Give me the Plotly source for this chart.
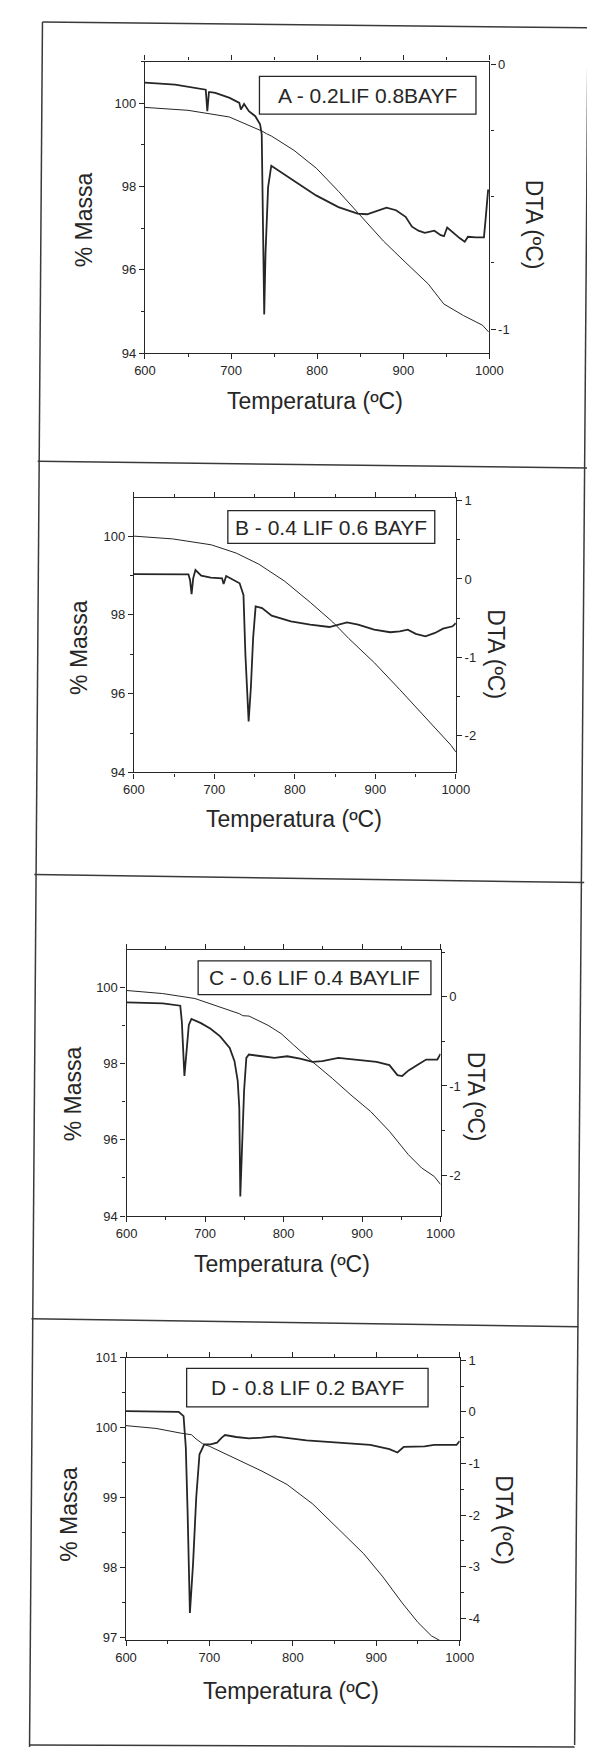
import plotly.graph_objects as go

# ---------------- data ----------------
# Panel A - 0.2LIF 0.8BAYF
A_label = "A - 0.2LIF 0.8BAYF"
A_tg_T = [600, 650, 698, 720, 736, 741, 747, 773, 799, 825, 851, 877, 903, 929, 947, 970, 992, 999]
A_tg = [99.90, 99.83, 99.67, 99.48, 99.33, 99.27, 99.21, 98.87, 98.44, 97.88, 97.29, 96.69, 96.17, 95.66, 95.18, 94.90, 94.67, 94.51]
A_dta_T = [600, 635, 670.6, 672.4, 674.3, 676.1, 681.7, 698.4, 709.6, 711.4, 715.1, 720.7, 728.1, 733.7, 735.6,
           736.7, 738.5, 740, 743, 746.7, 772.7, 798.7, 824.7, 847, 858, 869.3, 880.5, 891.6, 902.7, 910.1,
           917.6, 925, 936.1, 943.5, 947.3, 951, 958.4, 965.8, 971.4, 975.1, 984.4, 993.7, 995.5, 998.5, 1000]
A_dta = [-0.069, -0.077, -0.096, -0.177, -0.105, -0.105, -0.108, -0.127, -0.146, -0.171, -0.150, -0.177, -0.196, -0.227, -0.264,
         -0.464, -0.944, -0.713, -0.464, -0.383, -0.439, -0.495, -0.539, -0.564, -0.566, -0.554, -0.541, -0.551, -0.576, -0.613,
         -0.628, -0.636, -0.628, -0.645, -0.649, -0.616, -0.638, -0.657, -0.670, -0.651, -0.653, -0.653, -0.589, -0.476, -0.476]

# Panel B - 0.4 LIF 0.6 BAYF
B_label = "B - 0.4 LIF 0.6 BAYF"
B_tg_T = [600, 648, 696, 727, 755, 787, 819, 847, 867, 899, 930, 966, 986, 994, 1000]
B_tg = [100.00, 99.93, 99.78, 99.57, 99.29, 98.86, 98.32, 97.82, 97.40, 96.78, 96.11, 95.32, 94.86, 94.69, 94.52]
B_dta_T = [600, 667.7, 669.7, 671.6, 673.6, 676.4, 683.6, 695.5, 709.5, 711.4, 714.6, 723.4, 731.3, 736.1, 738.5,
           742.5, 745.3, 748.1, 751.2, 759.2, 771.1, 795, 819, 842.8, 854.8, 864.7, 878.6, 898.5, 918.4, 930.3,
           940.3, 950.2, 962.2, 974.1, 984.1, 996, 1000]
B_dta = [0.063, 0.059, -0.013, -0.194, 0.008, 0.114, 0.042, 0.017, 0.008, -0.063, 0.038, -0.013, -0.055, -0.203, -0.963,
         -1.820, -1.385, -0.751, -0.350, -0.372, -0.469, -0.541, -0.583, -0.613, -0.583, -0.553, -0.583, -0.646, -0.680, -0.668,
         -0.646, -0.700, -0.731, -0.689, -0.634, -0.604, -0.562]

# Panel C - 0.6 LIF 0.4 BAYLIF
C_label = "C - 0.6 LIF 0.4 BAYLIF"
C_tg_T = [600, 646, 687, 719, 744, 748, 756, 780, 797, 813, 837, 862, 886, 911, 935, 959, 976, 992, 1000]
C_tg = [99.91, 99.83, 99.70, 99.48, 99.30, 99.25, 99.24, 99.00, 98.78, 98.48, 98.04, 97.61, 97.17, 96.74, 96.22, 95.61, 95.26, 95.04, 94.83]
C_dta_T = [600, 646, 668.4, 670.4, 673.7, 676.5, 679.3, 682.6, 694.8, 707, 719.2, 731.4, 737.5, 741.6, 743.6,
           744.9, 746.9, 749.7, 752.6, 755.8, 772.1, 788.4, 804.7, 821, 837.2, 849.4, 869.8, 894.2, 918.6, 934.9,
           945.1, 951.2, 959.3, 971.5, 981.7, 996, 1000]
C_dta = [-0.063, -0.074, -0.100, -0.278, -0.889, -0.574, -0.315, -0.248, -0.296, -0.359, -0.444, -0.574, -0.722, -0.944, -1.241,
         -2.240, -1.796, -1.056, -0.685, -0.648, -0.667, -0.685, -0.667, -0.693, -0.730, -0.722, -0.685, -0.704, -0.730, -0.767,
         -0.878, -0.889, -0.826, -0.759, -0.704, -0.704, -0.640]

# Panel D - 0.8 LIF 0.2 BAYF
D_label = "D - 0.8 LIF 0.2 BAYF"
D_tg_T = [600, 636, 667, 678.5, 684, 692, 701, 732, 763, 793, 824, 855, 885, 908, 931, 950, 966, 978]
D_tg = [100.03, 99.99, 99.92, 99.90, 99.84, 99.77, 99.73, 99.56, 99.38, 99.19, 98.91, 98.55, 98.20, 97.87, 97.50, 97.22, 97.03, 96.95]
D_dta_T = [600, 663.2, 669, 671.7, 673.9, 676.6, 680.4, 684.2, 688.1, 693.8, 701.4, 709.1, 714.8, 718.7, 732.1,
           747.4, 762.7, 778, 797.1, 816.3, 854.5, 892.8, 915.8, 925.4, 933, 946.4, 957.9, 969.4, 988.5, 996.2, 1000]
D_dta = [0.013, 0.000, -0.083, -0.692, -1.974, -3.897, -2.936, -1.654, -0.821, -0.628, -0.628, -0.596, -0.500, -0.449, -0.487,
         -0.513, -0.500, -0.474, -0.513, -0.551, -0.596, -0.641, -0.724, -0.788, -0.679, -0.679, -0.667, -0.641, -0.647, -0.641, -0.564]

x_title = "Temperatura (ºC)"
yl_title = "% Massa"
yr_title = "DTA (ºC)"

# ---------------- layout helpers ----------------
W, H = 595, 1750
def fx(x):
    return x / W
def fy(y):
    return 1 - y / H

INK = "#262626"
FONT = "Arial, 'Liberation Sans', sans-serif"

panels = [
    dict(label=A_label, tgT=A_tg_T, tg=A_tg, dT=A_dta_T, d=A_dta,
         frame=(131.5, 491, 47, 341), yl=[94, 101], yl_d=2, yl_m=1,
         yr=[-1.09, 0.01], yr_ticks=[0, -1], yr_m=0.25,
         box=(251, 477, 62, 100),
         t_ml=(68, 207), t_dta=(537, 212), t_x=(309, 389)),
    dict(label=B_label, tgT=B_tg_T, tg=B_tg, dT=B_dta_T, d=B_dta,
         frame=(120, 456, 487.5, 764), yl=[94.0, 100.96], yl_d=2, yl_m=1,
         yr=[-2.47, 1.03], yr_ticks=[1, 0, -1, -2], yr_m=0.5,
         box=(218, 434, 500, 533),
         t_ml=(62, 638), t_dta=(497, 645), t_x=(287, 811)),
    dict(label=C_label, tgT=C_tg_T, tg=C_tg, dT=C_dta_T, d=C_dta,
         frame=(112.3, 440, 943.5, 1211.5), yl=[94.0, 100.96], yl_d=2, yl_m=1,
         yr=[-2.46, 0.52], yr_ticks=[0, -1, -2], yr_m=0.5,
         box=(187, 430, 954, 988),
         t_ml=(56, 1088), t_dta=(477, 1091), t_x=(275, 1260)),
    dict(label=D_label, tgT=D_tg_T, tg=D_tg, dT=D_dta_T, d=D_dta,
         frame=(111.7, 460, 1354.3, 1639), yl=[96.97, 101], yl_d=1, yl_m=0.5,
         yr=[-4.42, 1.05], yr_ticks=[1, 0, -1, -2, -3, -4], yr_m=0.5,
         box=(175, 427, 1365, 1404),
         t_ml=(52, 1512), t_dta=(506, 1518), t_x=(284, 1690)),
]

fig = go.Figure()
shapes = []
annotations = []
layout_axes = {}

for i, p in enumerate(panels):
    n = i + 1
    xa = "x" if n == 1 else f"x{n}"
    yl_id = 2 * n - 1
    yr_id = 2 * n
    yla = "y" if yl_id == 1 else f"y{yl_id}"
    yra = f"y{yr_id}"
    x0, x1, y0, y1 = p["frame"]

    fig.add_trace(go.Scatter(x=p["tgT"], y=p["tg"], mode="lines",
                             line=dict(color=INK, width=1.0), xaxis=xa, yaxis=yla,
                             showlegend=False, hoverinfo="skip"))
    fig.add_trace(go.Scatter(x=p["dT"], y=p["d"], mode="lines",
                             line=dict(color=INK, width=1.8), xaxis=xa, yaxis=yra,
                             showlegend=False, hoverinfo="skip"))

    xkey = "xaxis" if n == 1 else f"xaxis{n}"
    ylkey = "yaxis" if yl_id == 1 else f"yaxis{yl_id}"
    yrkey = f"yaxis{yr_id}"

    layout_axes[xkey] = dict(
        domain=[fx(x0), fx(x1)], anchor=yla, range=[600, 1000],
        tickmode="linear", tick0=600, dtick=100,
        ticks="outside", ticklen=5, tickwidth=1.2, tickcolor=INK,
        minor=dict(ticks="outside", ticklen=3, dtick=50, tickcolor=INK, showgrid=False),
        showline=True, linecolor=INK, linewidth=1.3, mirror="ticks",
        showgrid=False, zeroline=False,
        tickfont=dict(size=13, color=INK, family=FONT),
    )
    layout_axes[ylkey] = dict(
        domain=[fy(y1), fy(y0)], anchor=xa, range=p["yl"], side="left",
        tickmode="linear", tick0=94 if p["yl_d"] == 2 else 97, dtick=p["yl_d"],
        ticks="outside", ticklen=5, tickwidth=1.2, tickcolor=INK,
        minor=dict(ticks="outside", ticklen=3, dtick=p["yl_m"], tickcolor=INK, showgrid=False),
        showline=True, linecolor=INK, linewidth=1.3,
        showgrid=False, zeroline=False,
        tickfont=dict(size=13, color=INK, family=FONT),
    )
    layout_axes[yrkey] = dict(
        domain=[fy(y1), fy(y0)], anchor=xa, overlaying=yla, side="right",
        range=p["yr"], tickmode="array", tickvals=p["yr_ticks"],
        ticktext=[str(v) for v in p["yr_ticks"]],
        ticks="outside", ticklen=5, tickwidth=1.2, tickcolor=INK,
        minor=dict(ticks="outside", ticklen=3, dtick=p["yr_m"], tickcolor=INK, showgrid=False),
        showline=True, linecolor=INK, linewidth=1.3,
        showgrid=False, zeroline=False,
        tickfont=dict(size=13, color=INK, family=FONT),
    )

    bx0, bx1, by0, by1 = p["box"]
    shapes.append(dict(type="rect", xref="paper", yref="paper",
                       x0=fx(bx0), x1=fx(bx1), y0=fy(by1), y1=fy(by0),
                       line=dict(color=INK, width=1.3), fillcolor="white", layer="above"))
    annotations.append(dict(text=p["label"], xref="paper", yref="paper",
                            x=fx((bx0 + bx1) / 2), y=fy((by0 + by1) / 2),
                            xanchor="center", yanchor="middle", showarrow=False,
                            font=dict(size=21, color=INK, family=FONT)))
    annotations.append(dict(text=yl_title, xref="paper", yref="paper",
                            x=fx(p["t_ml"][0]), y=fy(p["t_ml"][1]), textangle=-90,
                            xanchor="center", yanchor="middle", showarrow=False,
                            font=dict(size=23, color=INK, family=FONT)))
    annotations.append(dict(text=yr_title, xref="paper", yref="paper",
                            x=fx(p["t_dta"][0]), y=fy(p["t_dta"][1]), textangle=90,
                            xanchor="center", yanchor="middle", showarrow=False,
                            font=dict(size=23, color=INK, family=FONT)))
    annotations.append(dict(text=x_title, xref="paper", yref="paper",
                            x=fx(p["t_x"][0]), y=fy(p["t_x"][1]),
                            xanchor="center", yanchor="middle", showarrow=False,
                            font=dict(size=23, color=INK, family=FONT)))

# page borders (scanned page frame, slightly skewed)
border_lines = [
    ((24.5, 7), (11, 1747)),
    ((594, 13), (580, 1745)),
    ((24.5, 7), (595, 13)),
    ((19.5, 450), (593, 457)),
    ((16, 867), (590, 875)),
    ((13, 1315), (584, 1323)),
    ((11, 1745), (580, 1747)),
]
for (ax, ay), (bx, by) in border_lines:
    shapes.append(dict(type="line", xref="paper", yref="paper",
                       x0=fx(ax), y0=fy(ay), x1=fx(bx), y1=fy(by),
                       line=dict(color="#3a3a3a", width=1.5)))

fig.update_layout(
    width=W, height=H, margin=dict(l=0, r=0, t=0, b=0),
    paper_bgcolor="white", plot_bgcolor="rgba(0,0,0,0)",
    font=dict(family=FONT, color=INK),
    shapes=shapes, annotations=annotations, showlegend=False,
    **layout_axes,
)

fig.write_html("out.html")
